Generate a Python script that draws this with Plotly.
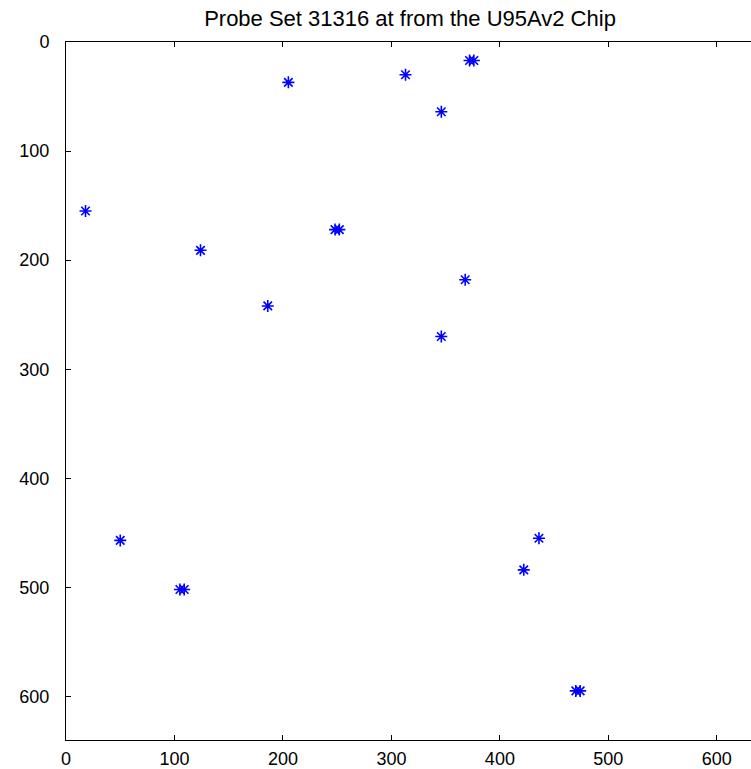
import plotly.graph_objects as go

# Probe positions (x column, y row on chip)
probe_x = [18, 205, 313, 372, 376, 346, 248, 252, 124, 186, 368, 346, 50, 105, 109, 436, 422, 470, 474, 634]
probe_y = [155, 37, 30, 17, 17, 64, 172, 172, 191, 242, 218, 270, 457, 502, 502, 455, 484, 595, 595, 475]

tick_vals = [0, 100, 200, 300, 400, 500, 600]
tick_text = ["0", "100", "200", "300", "400", "500", "600"]

FONT = "Liberation Sans, Arial, sans-serif"

fig = go.Figure()
fig.add_trace(go.Scatter(
    x=probe_x, y=probe_y, mode="markers", cliponaxis=False,
    marker=dict(symbol="asterisk-open", size=10, color="#0000ff",
                line=dict(color="#0000ff", width=1.6)),
    hoverinfo="x+y", showlegend=False,
))

axis_common = dict(
    showgrid=False, zeroline=False, showline=True, linecolor="black", linewidth=1,
    ticks="inside", ticklen=5, tickcolor="black", tickwidth=1,
    tickvals=tick_vals, ticktext=tick_text, automargin=False,
    tickfont=dict(family=FONT, size=18, color="black"),
)

fig.update_xaxes(range=[0, 631.5], ticklabelstandoff=2, mirror="ticks", **axis_common)
fig.update_yaxes(range=[640, 0], ticklabelstandoff=12, mirror=False, **axis_common)

fig.update_layout(
    width=751, height=769,
    margin=dict(l=66, r=0, t=42, b=29),
    paper_bgcolor="white", plot_bgcolor="white",
    title=dict(text="Probe Set 31316 at from the U95Av2 Chip",
               x=410 / 751, xref="container", xanchor="center",
               y=1 - 18 / 769, yref="container", yanchor="middle",
               font=dict(family=FONT, size=22, color="black")),
)

fig.write_html("out.html", config={"displayModeBar": False},
               post_script="document.body.style.margin='0px';document.body.style.overflow='hidden';")
